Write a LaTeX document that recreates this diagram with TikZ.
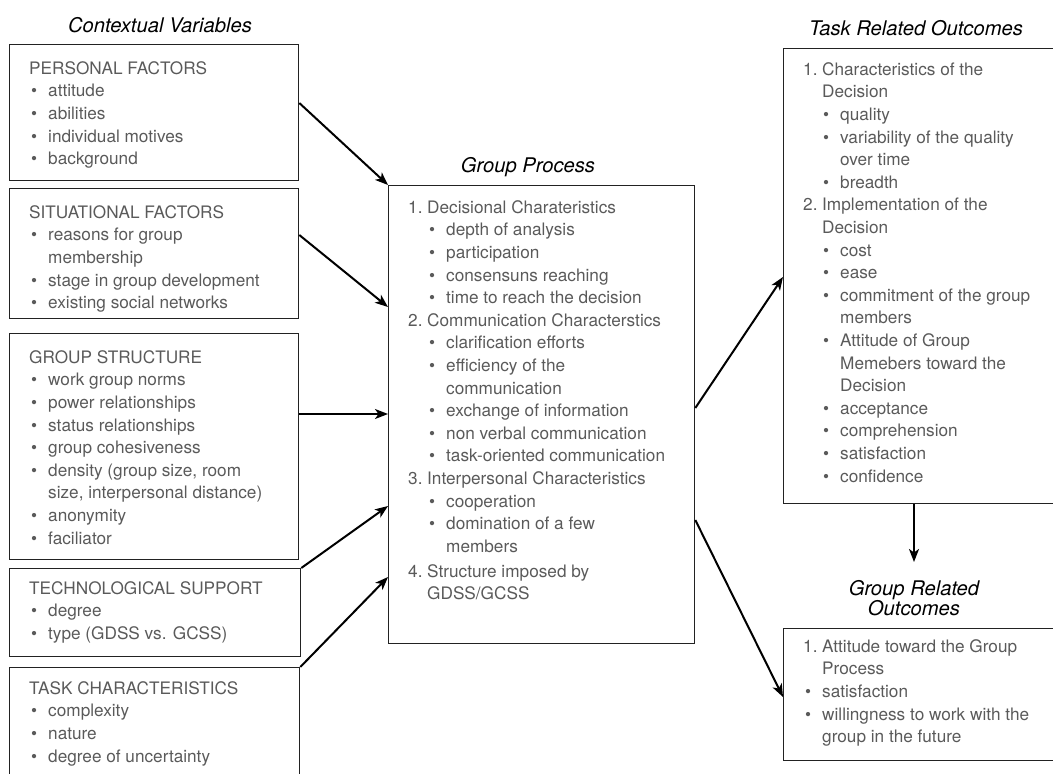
\documentclass[tikz,border=0pt]{standalone}
\usepackage{fontspec}
\setmainfont{TeX Gyre Heros}
\usetikzlibrary{arrows.meta,calc}
\definecolor{txtc}{HTML}{5A5A5A}
\definecolor{edgec}{HTML}{222222}
% list helpers: bullet cell, number cell, strut fixing the first baseline
\newcommand\bu{\makebox[17pt][l]{\textbullet}}
\newcommand\nm[1]{\makebox[19pt][l]{#1}}
\newcommand\fl{\rule{0pt}{13pt}}
\begin{document}
\begin{tikzpicture}[x=1pt,y=-1pt,
  box/.style={draw=edgec, line width=1.3pt, inner sep=0pt, anchor=north west},
  txt/.style={anchor=north west, inner sep=0pt, align=left, text=txtc,
    font=\fontsize{17.2}{22.6}\selectfont},
  ttl/.style={anchor=base, inner sep=0pt, text=black,
    font=\fontsize{20.2}{20}\selectfont\itshape},
  arr/.style={-{Stealth[length=13pt,width=10pt,inset=3.5pt]}, line width=2pt, draw=black}]
\useasboundingbox (0,0) rectangle (1053,774);
\clip (0,0) rectangle (1053,774);

% column titles
\node[ttl] (tcv) at (160,32) {Contextual Variables};
\node[ttl] (tgp) at (528,172) {Group Process};
\node[ttl] (tto) at (916,35) {Task Related Outcomes};
\node[ttl] (tgo1) at (914,595) {Group Related};
\node[ttl] (tgo2) at (914,615) {Outcomes};

% contextual variable boxes
\node[box, minimum width=289pt, minimum height=136pt] (pf) at (9,44) {};
\node[box, minimum width=289pt, minimum height=130pt] (sf) at (9,188) {};
\node[box, minimum width=289pt, minimum height=226pt] (gs) at (9,333) {};
\node[box, minimum width=291pt, minimum height=88pt]  (ts) at (9,568) {};
\node[box, minimum width=290pt, minimum height=150pt] (tc) at (9,667) {};

% group process and outcome boxes
\node[box, minimum width=306pt, minimum height=458pt] (gp) at (388,185) {};
\node[box, minimum width=300pt, minimum height=455pt] (to) at (783,48) {};
\node[box, minimum width=300pt, minimum height=132pt] (go) at (783,628) {};

% box contents
\node[txt] (pf-t) at (29,61) {\fl PERSONAL FACTORS\\
  \hspace*{2pt}\bu attitude\\
  \hspace*{2pt}\bu abilities\\
  \hspace*{2pt}\bu individual motives\\
  \hspace*{2pt}\bu background};
\node[txt] (sf-t) at (29,205) {\fl SITUATIONAL FACTORS\\
  \hspace*{2pt}\bu reasons for group\\
  \hspace*{19pt}membership\\
  \hspace*{2pt}\bu stage in group development\\
  \hspace*{2pt}\bu existing social networks};
\node[txt] (gs-t) at (29,350) {\fl GROUP STRUCTURE\\
  \hspace*{2pt}\bu work group norms\\
  \hspace*{2pt}\bu power relationships\\
  \hspace*{2pt}\bu status relationships\\
  \hspace*{2pt}\bu group cohesiveness\\
  \hspace*{2pt}\bu density (group size, room\\
  \hspace*{19pt}size, interpersonal distance)\\
  \hspace*{2pt}\bu anonymity\\
  \hspace*{2pt}\bu faciliator};
\node[txt] (ts-t) at (29,581) {\fl TECHNOLOGICAL SUPPORT\\
  \hspace*{2pt}\bu degree\\
  \hspace*{2pt}\bu type (GDSS vs. GCSS)};
\node[txt] (tc-t) at (29,681) {\fl TASK CHARACTERISTICS\\
  \hspace*{2pt}\bu complexity\\
  \hspace*{2pt}\bu nature\\
  \hspace*{2pt}\bu degree of uncertainty};

\node[txt] (gp-t) at (408,200) {\fl\nm{1.}Decisional Charateristics\\
  \hspace*{21pt}\bu depth of analysis\\
  \hspace*{21pt}\bu participation\\
  \hspace*{21pt}\bu consensuns reaching\\
  \hspace*{21pt}\bu time to reach the decision\\
  \nm{2.}Communication Characterstics\\
  \hspace*{21pt}\bu clarification efforts\\
  \hspace*{21pt}\bu efficiency of the\\
  \hspace*{38pt}communication\\
  \hspace*{21pt}\bu exchange of information\\
  \hspace*{21pt}\bu non verbal communication\\
  \hspace*{21pt}\bu task-oriented communication\\
  \nm{3.}Interpersonal Characteristics\\
  \hspace*{21pt}\bu cooperation\\
  \hspace*{21pt}\bu domination of a few\\
  \hspace*{38pt}members\\[2.4pt]
  \nm{4.}Structure imposed by\\
  \hspace*{19pt}GDSS/GCSS};

\node[txt] (to-t) at (803,62) {\fl\nm{1.}Characteristics of the\\
  \hspace*{19pt}Decision\\
  \hspace*{20pt}\bu quality\\
  \hspace*{20pt}\bu variability of the quality\\
  \hspace*{37pt}over time\\
  \hspace*{20pt}\bu breadth\\
  \nm{2.}Implementation of the\\
  \hspace*{19pt}Decision\\
  \hspace*{20pt}\bu cost\\
  \hspace*{20pt}\bu ease\\
  \hspace*{20pt}\bu commitment of the group\\
  \hspace*{37pt}members\\
  \hspace*{20pt}\bu Attitude of Group\\
  \hspace*{37pt}Memebers toward the\\
  \hspace*{37pt}Decision\\
  \hspace*{20pt}\bu acceptance\\
  \hspace*{20pt}\bu comprehension\\
  \hspace*{20pt}\bu satisfaction\\
  \hspace*{20pt}\bu confidence};

\node[txt] (go-t) at (803,639) {\fl\nm{1.}Attitude toward the Group\\
  \hspace*{19pt}Process\\
  \hspace*{2pt}\bu satisfaction\\
  \hspace*{2pt}\bu willingness to work with the\\
  \hspace*{19pt}group in the future};

% connectors
\coordinate (gotip) at (914,562);
\draw[arr] ($(pf.north east)+(0,59)$) -- (gp.north west);
\draw[arr] ($(sf.north east)+(0,47)$) -- ($(gp.north west)+(0,122)$);
\draw[arr] ($(gs.north east)+(0,81)$) -- ($(gp.north west)+(0,229)$);
\draw[arr] (ts.north east) -- ($(gp.north west)+(0,321)$);
\draw[arr] (tc.north east) -- ($(gp.north west)+(0,392)$);
\draw[arr] ($(gp.north east)+(0,223)$) -- ($(to.north west)+(0,229)$);
\draw[arr] ($(gp.north east)+(0,335)$) -- ($(go.north west)+(0,69)$);
\draw[arr] ($(to.south west)+(131,0)$) -- (gotip);
\end{tikzpicture}
\end{document}
